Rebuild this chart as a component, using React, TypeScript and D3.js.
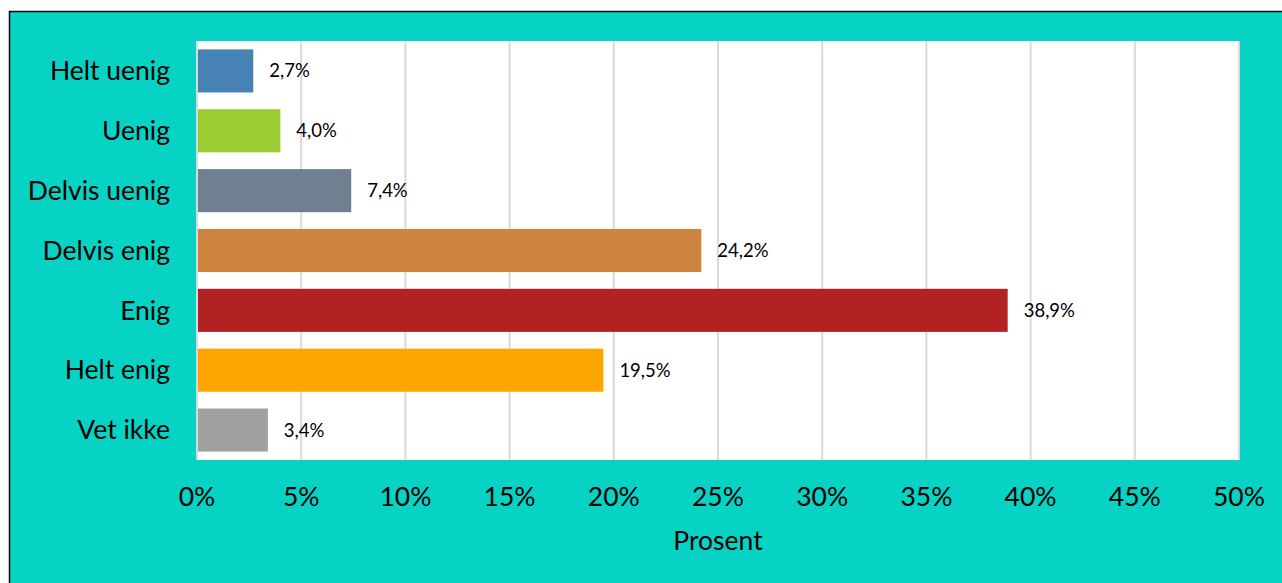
import React from "react";
import * as d3 from "d3";

const categories = ["Helt uenig", "Uenig", "Delvis uenig", "Delvis enig", "Enig", "Helt enig", "Vet ikke"];
const values = [2.7, 4.0, 7.4, 24.2, 38.9, 19.5, 3.4];
const barColors = ["#4682B4", "#9ACD32", "#708090", "#CD853F", "#B22222", "#FFA500", "#A0A0A0"];
const xTicks = [0, 5, 10, 15, 20, 25, 30, 35, 40, 45, 50];
const xAxisTitle = "Prosent";

const W = 1282;
const H = 583;
const plot = { left: 197, right: 1239, top: 41, bottom: 460 };
const FONT = "Lato, 'Open Sans', sans-serif";

export default function App() {
  const x = d3.scaleLinear().domain([0, 50]).range([plot.left, plot.right]);
  const y = d3.scaleBand<string>().domain(categories).range([plot.top, plot.bottom]).paddingInner(0.28).paddingOuter(0.14);
  const fmt = (v: number) => v.toFixed(1).replace(".", ",") + "%";

  return (
    <svg width={W} height={H} style={{ position: "absolute", left: 0, top: 0 }} fontFamily={FONT}>
      <rect x={9.5} y={11.5} width={W + 20} height={H + 20} fill="#07D3C5" stroke="#000" strokeWidth={1.5} />
      <rect x={plot.left - 1} y={plot.top} width={plot.right - plot.left + 2} height={plot.bottom - plot.top} fill="#fff" />
      {xTicks.map((t) => (
        <line key={t} x1={x(t)} x2={x(t)} y1={plot.top} y2={plot.bottom} stroke="#D9D9D9" strokeWidth={2} />
      ))}
      {categories.map((c, i) => (
        <g key={c}>
          <rect x={x(0) + 1} y={y(c)!} width={x(values[i]) - x(0) - 1} height={y.bandwidth()} fill={barColors[i]} />
          <text x={x(values[i]) + 16} y={y(c)! + y.bandwidth() / 2} dy="0.35em" fontSize={18.5} fill="#000">
            {fmt(values[i])}
          </text>
          <text x={170} y={y(c)! + y.bandwidth() / 2} dy="0.35em" fontSize={26.5} textAnchor="end" fill="#000">
            {c}
          </text>
        </g>
      ))}
      {xTicks.map((t) => (
        <text key={t} x={x(t)} y={497} dy="0.35em" fontSize={26.5} textAnchor="middle" fill="#000">
          {t + "%"}
        </text>
      ))}
      <text x={(plot.left + plot.right) / 2} y={541} dy="0.35em" fontSize={26.5} textAnchor="middle" fill="#000">
        {xAxisTitle}
      </text>
    </svg>
  );
}
